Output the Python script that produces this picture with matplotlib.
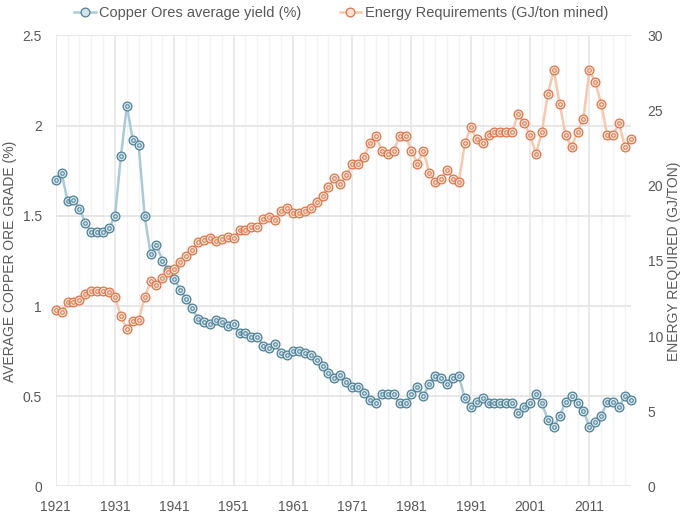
import matplotlib
matplotlib.use("Agg")
import matplotlib.pyplot as plt
import matplotlib.ticker as plticker

plt.rcParams["font.family"] = ["Liberation Sans", "DejaVu Sans"]

YEARS = list(range(1921, 2019))

# copper ore average grade (%)
ORE_GRADE = [
    1.70, 1.74, 1.58, 1.59, 1.54, 1.46, 1.41, 1.41, 1.41, 1.43,
    1.50, 1.83, 2.11, 1.92, 1.89, 1.50, 1.29, 1.34, 1.25, 1.20,
    1.15, 1.09, 1.04, 0.99, 0.93, 0.91, 0.90, 0.92, 0.91, 0.89,
    0.90, 0.85, 0.85, 0.83, 0.83, 0.78, 0.77, 0.79, 0.74, 0.73,
    0.75, 0.75, 0.74, 0.73, 0.70, 0.67, 0.63, 0.60, 0.62, 0.58,
    0.55, 0.55, 0.52, 0.48, 0.46, 0.51, 0.51, 0.51, 0.46, 0.46,
    0.51, 0.55, 0.50, 0.57, 0.61, 0.60, 0.57, 0.60, 0.61, 0.49,
    0.44, 0.47, 0.49, 0.46, 0.46, 0.46, 0.46, 0.46, 0.41, 0.44,
    0.46, 0.51, 0.46, 0.37, 0.33, 0.39, 0.47, 0.50, 0.46, 0.42,
    0.33, 0.36, 0.39, 0.47, 0.47, 0.44, 0.50, 0.48,
]

# energy requirements (GJ/ton mined)
ENERGY = [
    11.75, 11.60, 12.24, 12.24, 12.42, 12.80, 13.02, 13.02, 13.02, 12.91,
    12.60, 11.31, 10.47, 11.02, 11.09, 12.57, 13.64, 13.37, 13.86, 14.26,
    14.46, 14.90, 15.32, 15.72, 16.23, 16.40, 16.54, 16.32, 16.45, 16.58,
    16.50, 17.05, 17.05, 17.23, 17.26, 17.82, 17.93, 17.73, 18.35, 18.49,
    18.18, 18.18, 18.35, 18.49, 18.91, 19.33, 19.95, 20.50, 20.13, 20.70,
    21.46, 21.46, 21.90, 22.83, 23.32, 22.34, 22.08, 22.34, 23.32, 23.32,
    22.34, 21.48, 22.34, 20.88, 20.28, 20.46, 21.06, 20.46, 20.28, 22.83,
    23.89, 23.09, 22.83, 23.36, 23.60, 23.60, 23.60, 23.60, 24.78, 24.16,
    23.36, 22.10, 23.60, 26.11, 27.70, 25.42, 23.36, 22.58, 23.60, 24.47,
    27.70, 26.90, 25.42, 23.36, 23.36, 24.16, 22.58, 23.09,
]

LEFT_TICKS = [0, 0.5, 1, 1.5, 2, 2.5]
RIGHT_TICKS = [0, 5, 10, 15, 20, 25, 30]
TEXT = "#595959"

dpi = 100
fig = plt.figure(figsize=(6.85, 5.16), dpi=dpi)
ax = fig.add_axes([0.0813, 0.0572, 0.8397, 0.8742])
ax2 = ax.twinx()

ax.set_xlim(1921, 2018)
ax.set_ylim(0, 2.5)
ax2.set_ylim(0, 30)

ax.xaxis.set_major_locator(plticker.FixedLocator(range(1921, 2019, 10)))
ax.xaxis.set_minor_locator(plticker.FixedLocator(range(1921, 2019, 2)))
ax.set_yticks(LEFT_TICKS)
ax.set_yticklabels([f"{t:g}" for t in LEFT_TICKS])
ax2.set_yticks(RIGHT_TICKS)
ax2.set_yticklabels([str(t) for t in RIGHT_TICKS])

ax.grid(which="major", axis="y", color="#e3e3e3", linewidth=1.2)
ax.grid(which="major", axis="x", color="#e6e6e6", linewidth=1.2)
ax.grid(which="minor", axis="x", color="#f3f3f3", linewidth=1.0)
ax.set_axisbelow(True)

for a in (ax, ax2):
    for s in a.spines.values():
        s.set_visible(False)
    a.tick_params(which="both", length=0, labelsize=10, labelcolor=TEXT)
ax.tick_params(axis="y", pad=10)
ax.tick_params(axis="x", pad=10)
ax2.tick_params(axis="y", pad=12)

blue_line = "#a9cad8"
blue_mark = "#4f8197"
orange_line = "#f6c8ad"
orange_mark = "#df7448"

l1, = ax.plot(YEARS, ORE_GRADE, color=blue_line, lw=1.8, marker="o", ms=6.3,
              mfc="#d3e3ea", mec=blue_mark, mew=0.9, zorder=3, clip_on=False,
              label="Copper Ores average yield (%)")
ax.plot(YEARS, ORE_GRADE, ls="none", marker="o", ms=2.6, mfc="none",
        mec=blue_mark, mew=0.7, zorder=4, clip_on=False)

l2, = ax2.plot(YEARS, ENERGY, color=orange_line, lw=1.8, marker="o", ms=6.3,
               mfc="#fbe1d3", mec=orange_mark, mew=0.9, zorder=3, clip_on=False,
               label="Energy Requirements (GJ/ton mined)")
ax2.plot(YEARS, ENERGY, ls="none", marker="o", ms=2.6, mfc="none",
         mec=orange_mark, mew=0.7, zorder=4, clip_on=False)

leg = fig.legend(handles=[l1, l2], loc="upper center", bbox_to_anchor=(0.498, 1.014),
                 ncol=2, frameon=False, fontsize=10.5, handlelength=1.5,
                 handletextpad=0.25, columnspacing=2.6)
for t in leg.get_texts():
    t.set_color(TEXT)

fig.text(10 / 685, 1 - 261 / 516, "AVERAGE COPPER ORE GRADE (%)", rotation=90,
         ha="center", va="center", fontsize=10, color=TEXT)
fig.text(674 / 685, 1 - 261 / 516, "ENERGY REQUIRED (GJ/TON)", rotation=90,
         ha="center", va="center", fontsize=10, color=TEXT)

fig.savefig("out.png", dpi=dpi)
